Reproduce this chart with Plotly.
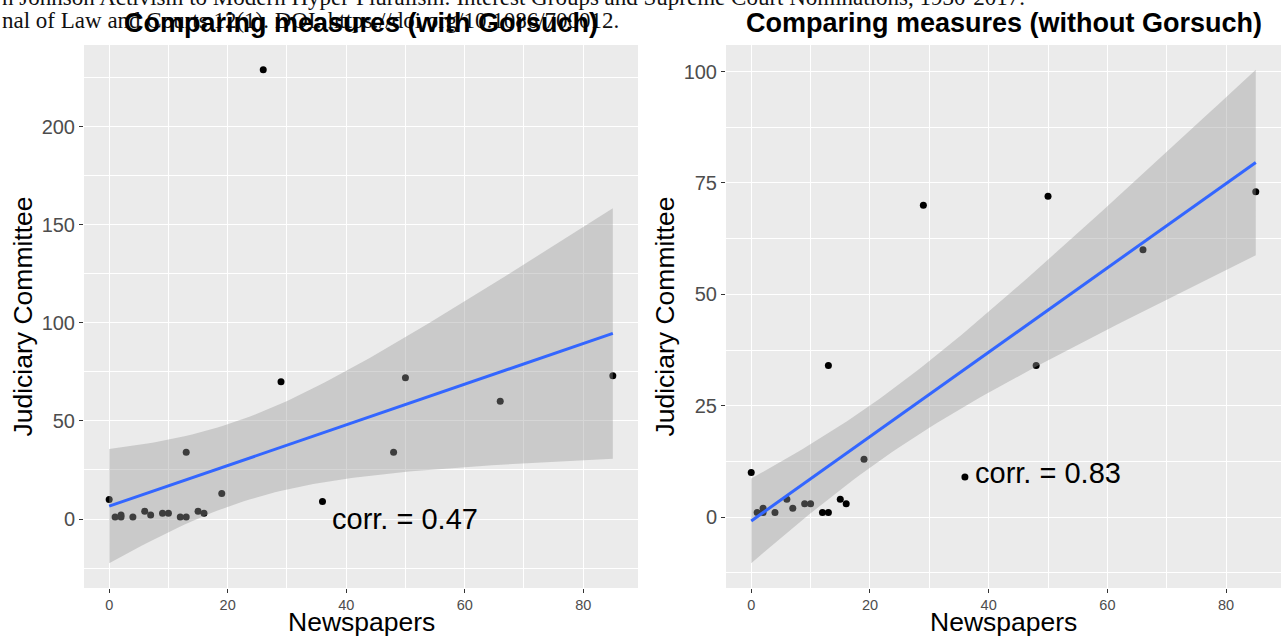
import numpy as np
import plotly.graph_objects as go

# ---------------- data ----------------
newspapers = [0, 1, 2, 2, 4, 6, 7, 9, 10, 12, 13, 13, 15, 16, 19, 29, 36, 48, 50, 66, 85]
judiciary = [10, 1, 2, 1, 1, 4, 2, 3, 3, 1, 1, 34, 4, 3, 13, 70, 9, 34, 72, 60, 73]
gorsuch_newspapers = [26]
gorsuch_judiciary = [229]

titles = ["Comparing measures (with Gorsuch)", "Comparing measures (without Gorsuch)"]
corr_labels = ["corr. = 0.47", "corr. = 0.83"]
corr_label_x = [50, 50]
corr_label_y = [0, 10]
x_ticks = [0, 20, 40, 60, 80]
y_ticks_left = [0, 50, 100, 150, 200]
y_ticks_right = [0, 25, 50, 75, 100]
citation_lines = [
    "n Johnson Activism to Modern Hyper-Pluralism: Interest Groups and Supreme Court Nominations, 1930-2017.",
    "nal of Law and Courts 12(1). DOI: https://doi.org/10.1086/700012.",
]
# two-sided 95% Student t quantiles
T975 = {19: 2.093024, 20: 2.085963}

W, H = 1288, 639


def lm_band(x, y):
    x = np.asarray(x, float)
    y = np.asarray(y, float)
    n = len(x)
    b, a = np.polyfit(x, y, 1)
    resid = y - (a + b * x)
    s = np.sqrt(np.sum(resid ** 2) / (n - 2))
    xbar = x.mean()
    sxx = np.sum((x - xbar) ** 2)
    xg = np.linspace(x.min(), x.max(), 80)
    yg = a + b * xg
    se = s * np.sqrt(1 / n + (xg - xbar) ** 2 / sxx)
    t = T975[n - 2]
    return xg, yg, yg - t * se, yg + t * se


def px_x(p):
    return p / W


def px_y(p):
    return 1 - p / H


datasets = [
    (newspapers + gorsuch_newspapers, judiciary + gorsuch_judiciary, y_ticks_left, 25),
    (newspapers, judiciary, y_ticks_right, 12.5),
]
panels_px = [(84, 638), (726, 1281)]
top_px, bot_px = 45, 588

fig = go.Figure()
layout = dict(
    width=W, height=H,
    margin=dict(l=0, r=0, t=0, b=0),
    paper_bgcolor="white",
    plot_bgcolor="#EBEBEB",
    showlegend=False,
    font=dict(family="Liberation Sans, Arial, sans-serif"),
)
annotations = []

# citation text in the background
annotations.append(dict(x=0, y=px_y(-2.5), xref="paper", yref="paper", xanchor="left",
                        yanchor="middle", showarrow=False, text=citation_lines[0],
                        font=dict(family="Liberation Serif, serif", size=23, color="#111111")))
annotations.append(dict(x=0, y=px_y(20.5), xref="paper", yref="paper", xanchor="left",
                        yanchor="middle", showarrow=False, text=citation_lines[1],
                        font=dict(family="Liberation Serif, serif", size=23, color="#111111")))

for i, (xs, ys, yt, minor_dt) in enumerate(datasets):
    xa = "x" if i == 0 else "x2"
    ya = "y" if i == 0 else "y2"
    xg, yg, lo, hi = lm_band(xs, ys)

    fig.add_trace(go.Scatter(x=xs, y=ys, mode="markers", xaxis=xa, yaxis=ya,
                             marker=dict(color="black", size=7, line=dict(width=0))))
    fig.add_trace(go.Scatter(x=np.concatenate([xg, xg[::-1]]),
                             y=np.concatenate([hi, lo[::-1]]),
                             mode="lines", fill="toself", xaxis=xa, yaxis=ya,
                             fillcolor="rgba(153,153,153,0.4)", line=dict(width=0),
                             hoverinfo="skip"))
    fig.add_trace(go.Scatter(x=xg, y=yg, mode="lines", xaxis=xa, yaxis=ya,
                             line=dict(color="#3366FF", width=3)))

    allx = list(xs)
    ally = list(ys) + list(lo) + list(hi)
    xmin, xmax = min(allx), max(allx)
    ymin, ymax = min(ally), max(ally)
    xpad = 0.05 * (xmax - xmin)
    ypad = 0.05 * (ymax - ymin)

    l_px, r_px = panels_px[i]
    xkey = "xaxis" if i == 0 else "xaxis2"
    ykey = "yaxis" if i == 0 else "yaxis2"
    layout[xkey] = dict(
        domain=[px_x(l_px), px_x(r_px)], anchor=ya,
        range=[xmin - xpad, xmax + xpad],
        tickvals=x_ticks, ticks="outside", ticklen=4, tickwidth=1, tickcolor="#333333",
        tickfont=dict(size=14.5, color="#4D4D4D"),
        showgrid=True, gridcolor="white", gridwidth=1.4, zeroline=False, showline=False,
        minor=dict(dtick=10, tick0=0, showgrid=True, gridcolor="white", gridwidth=0.7, ticks=""),
    )
    layout[ykey] = dict(
        domain=[px_y(bot_px), px_y(top_px)], anchor=xa,
        range=[ymin - ypad, ymax + ypad],
        tickvals=yt, ticks="outside", ticklen=4, tickwidth=1, tickcolor="#333333",
        tickfont=dict(size=20, color="#4D4D4D"),
        showgrid=True, gridcolor="white", gridwidth=1.4, zeroline=False, showline=False,
        minor=dict(dtick=minor_dt, tick0=0, showgrid=True, gridcolor="white", gridwidth=0.7, ticks=""),
    )

    cx = (l_px + r_px) / 2
    annotations.append(dict(x=px_x(cx), y=px_y(23), xref="paper", yref="paper",
                            xanchor="center", yanchor="middle", showarrow=False,
                            text="<b>" + titles[i] + "</b>",
                            font=dict(size=27, color="black")))
    annotations.append(dict(x=px_x(cx), y=px_y(622), xref="paper", yref="paper",
                            xanchor="center", yanchor="middle", showarrow=False,
                            text="Newspapers", font=dict(size=26.5, color="black")))
    annotations.append(dict(x=px_x(l_px - 61), y=px_y((top_px + bot_px) / 2), xref="paper",
                            yref="paper", xanchor="center", yanchor="middle", showarrow=False,
                            textangle=-90, text="Judiciary Committee",
                            font=dict(size=26.5, color="black")))
    annotations.append(dict(x=corr_label_x[i], y=corr_label_y[i], xref=xa, yref=ya,
                            xanchor="center", yanchor="middle", showarrow=False,
                            text=corr_labels[i], font=dict(size=29, color="black")))

layout["annotations"] = annotations
fig.update_layout(**layout)
fig.write_html("out.html")
